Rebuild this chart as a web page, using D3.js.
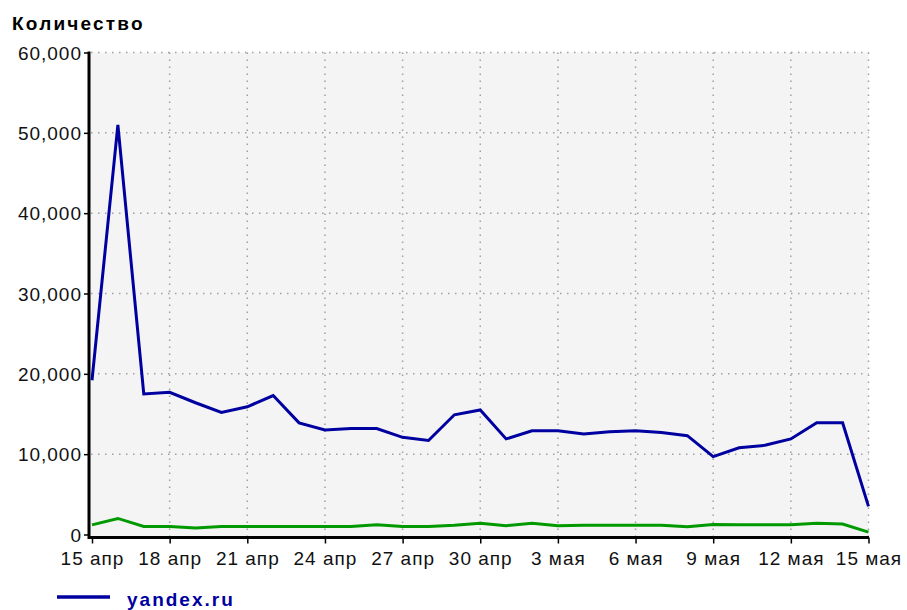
<!DOCTYPE html>
<html><head><meta charset="utf-8">
<script src="https://cdn.jsdelivr.net/npm/d3@7"></script>
<style>
body{margin:0;background:#fff;}
svg text{font-family:"Liberation Sans",Arial,sans-serif;}
</style></head>
<body><svg id="c" width="907" height="610"></svg>
<script>
// Days from 15 апр (index 0) to 15 мая (index 30)
const days = d3.range(0, 31);
const yandex = [19200,51000,17500,17700,16400,15200,15900,17300,13900,13000,13200,13200,12100,11700,14900,15500,11900,12900,12900,12500,12800,12900,12700,12300,9700,10800,11100,11900,13900,13900,3500];
const second = [1200,2000,1000,1000,800,1000,1000,1000,1000,1000,1000,1200,1000,1000,1150,1400,1100,1400,1100,1150,1150,1150,1150,950,1250,1200,1200,1200,1400,1300,300];
const xTickDays = [0,3,6,9,12,15,18,21,24,27,30];
const xTickLabels = ["15 апр","18 апр","21 апр","24 апр","27 апр","30 апр","3 мая","6 мая","9 мая","12 мая","15 мая"];
const yTicks = [0,10000,20000,30000,40000,50000,60000];
const title = "Количество";
const legendLabel = "yandex.ru";

const svg = d3.select("#c");
const x = d3.scaleLinear().domain([0,30]).range([92,868.5]);
const y = d3.scaleLinear().domain([0,60000]).range([534.5,52.5]);

// plot background
svg.append("rect").attr("x",90).attr("y",y(60000)).attr("width",x(30)-90).attr("height",536-y(60000)).attr("fill","#f4f4f4");

// grid
const g = svg.append("g").attr("stroke","#a0a0a0").attr("stroke-width",1.5).attr("stroke-dasharray","1.5,5.5");
g.selectAll("line.h").data(yTicks.filter(d=>d>0)).join("line")
  .attr("x1",91).attr("x2",x(30)).attr("y1",d=>y(d)).attr("y2",d=>y(d));
g.selectAll("line.v").data(xTickDays.filter(d=>d>0)).join("line")
  .attr("x1",d=>x(d)).attr("x2",d=>x(d)).attr("y1",y(60000)).attr("y2",536);

// axes
const yAxis = d3.axisLeft(y).tickValues(yTicks).tickFormat(d3.format(",")).tickSize(5).tickPadding(2);
const ya = svg.append("g").attr("transform","translate(89,0)").call(yAxis);
ya.select(".domain").remove();
ya.selectAll(".tick line").attr("stroke","#000").attr("stroke-width",1.5);
ya.selectAll(".tick text").attr("font-size",19).attr("letter-spacing","1px").attr("fill","#111").attr("dy","0.35em");

const xAxis = d3.axisBottom(x).tickValues(xTickDays).tickFormat((d,i)=>xTickLabels[i]).tickSize(6).tickPadding(11);
const xa = svg.append("g").attr("transform","translate(0,537.5)").call(xAxis);
xa.select(".domain").remove();
xa.selectAll(".tick line").attr("stroke","#000").attr("stroke-width",1.5);
xa.selectAll(".tick text").attr("font-size",19).attr("letter-spacing","1px").attr("fill","#111").attr("dy","0.55em");

// lines
const line = d3.line().x((d,i)=>x(days[i])).y(d=>y(d));
svg.append("path").datum(second).attr("d",line).attr("fill","none").attr("stroke","#009900").attr("stroke-width",3);
svg.append("path").datum(yandex).attr("d",line).attr("fill","none").attr("stroke","#0000a0").attr("stroke-width",3);

// axis lines
svg.append("line").attr("x1",89).attr("x2",89).attr("y1",y(60000)-1).attr("y2",539).attr("stroke","#000").attr("stroke-width",3);
svg.append("line").attr("x1",88).attr("x2",x(30)+0.5).attr("y1",537.5).attr("y2",537.5).attr("stroke","#000").attr("stroke-width",3);

// title
svg.append("text").attr("x",12).attr("y",30).attr("font-size",19).attr("font-weight","bold").attr("letter-spacing","2.2px").attr("fill","#000").text(title);

// legend
svg.append("line").attr("x1",57).attr("x2",110).attr("y1",597).attr("y2",597).attr("stroke","#0000a0").attr("stroke-width",3.5);
svg.append("text").attr("x",127).attr("y",606).attr("font-size",19).attr("font-weight","bold").attr("letter-spacing","2px").attr("fill","#0000a0").text(legendLabel);
</script></body></html>
